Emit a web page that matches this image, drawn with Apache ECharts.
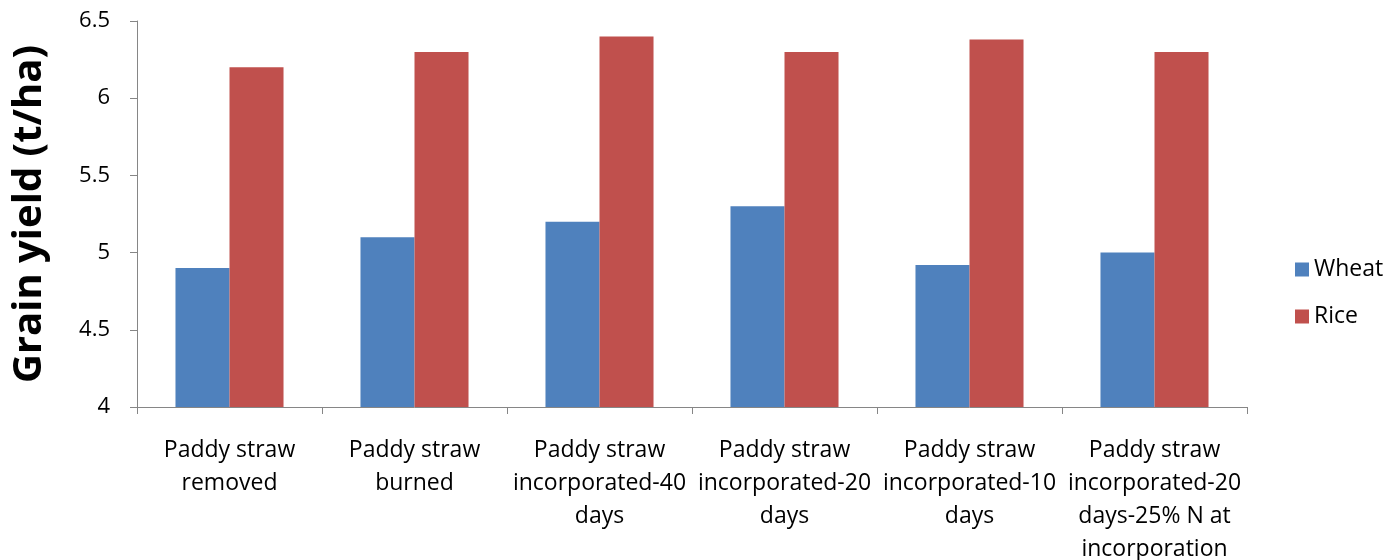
<!DOCTYPE html>
<html>
<head>
<meta charset="utf-8">
<script src="https://cdn.jsdelivr.net/npm/echarts@6/dist/echarts.min.js"></script>
<style>
  html, body { margin: 0; padding: 0; background: #fff; }
  #chart { width: 1400px; height: 560px; }
</style>
</head>
<body>
<div id="chart"></div>
<script>
// Grain yield by paddy straw management treatment
const categories = [
  'Paddy straw\nremoved',
  'Paddy straw\nburned',
  'Paddy straw\nincorporated-40\ndays',
  'Paddy straw\nincorporated-20\ndays',
  'Paddy straw\nincorporated-10\ndays',
  'Paddy straw\nincorporated-20\ndays-25% N at\nincorporation'
];
const wheat = [4.9, 5.1, 5.2, 5.3, 4.92, 5.0];
const rice = [6.2, 6.3, 6.4, 6.3, 6.38, 6.3];
const yTicks = { min: 4, max: 6.5, interval: 0.5 };

const FONT = '"Open Sans", "Liberation Sans", sans-serif';
const AXIS_GREY = '#868686';

const chart = echarts.init(document.getElementById('chart'), null, { renderer: 'canvas' });
chart.setOption({
  animation: false,
  backgroundColor: '#ffffff',
  textStyle: { fontFamily: FONT },
  grid: {
    left: 137, right: 153, top: 21, bottom: 153,
    containLabel: false,
    outerBoundsMode: 'none'
  },
  legend: {
    orient: 'vertical',
    left: 1290,
    top: 253,
    itemWidth: 14,
    itemHeight: 14,
    itemGap: 24,
    icon: 'rect',
    textStyle: { fontFamily: FONT, fontSize: 23, color: '#000' },
    data: ['Wheat', 'Rice']
  },
  xAxis: {
    type: 'category',
    data: categories,
    axisLine: { lineStyle: { color: AXIS_GREY, width: 1 } },
    axisTick: { show: true, length: 7, alignWithLabel: false, lineStyle: { color: AXIS_GREY } },
    axisLabel: {
      interval: 0,
      margin: 27,
      fontFamily: FONT,
      fontSize: 23,
      lineHeight: 33,
      color: '#000',
      align: 'center'
    },
    splitLine: { show: false }
  },
  yAxis: {
    type: 'value',
    min: yTicks.min,
    max: yTicks.max,
    interval: yTicks.interval,
    name: 'Grain yield (t/ha)',
    nameLocation: 'middle',
    nameRotate: 90,
    nameGap: 87,
    nameTextStyle: { fontFamily: FONT, fontSize: 40, fontWeight: 'bold', color: '#000' },
    axisLine: { show: true, lineStyle: { color: AXIS_GREY, width: 1 } },
    axisTick: { show: true, length: 7, inside: false, lineStyle: { color: AXIS_GREY } },
    axisLabel: {
      margin: 27,
      fontFamily: FONT,
      fontSize: 22,
      color: '#000',
      formatter: v => String(v)
    },
    splitLine: { show: false }
  },
  series: [
    {
      name: 'Wheat',
      type: 'bar',
      data: wheat,
      itemStyle: { color: '#4F81BD' },
      barGap: '0%',
      barCategoryGap: '41.6%'
    },
    {
      name: 'Rice',
      type: 'bar',
      data: rice,
      itemStyle: { color: '#C0504D' },
      barGap: '0%',
      barCategoryGap: '41.6%'
    }
  ]
});
</script>
</body>
</html>
